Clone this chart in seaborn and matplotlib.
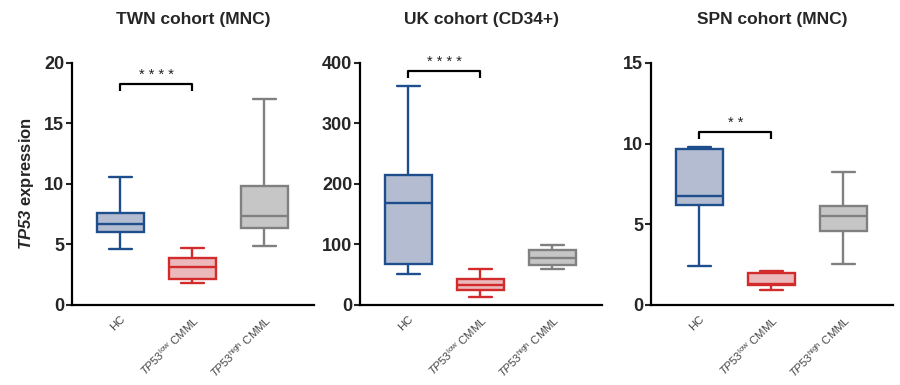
import matplotlib
matplotlib.use('Agg')
import matplotlib.pyplot as plt
import pandas as pd
import seaborn as sns

# categories and tick labels
groups = ['HC', 'TP53low', 'TP53high']
tick_labels = ['HC',
               r'$\mathit{TP53}^{\mathrm{low}}$ CMML',
               r'$\mathit{TP53}^{\mathrm{high}}$ CMML']

# five-number summaries (min, q1, median, q3, max)
twn_hc = [4.65, 6.06, 6.72, 7.63, 10.58]
twn_low = [1.82, 2.18, 3.11, 3.91, 4.74]
twn_high = [4.85, 6.34, 7.36, 9.81, 17.0]

uk_hc = [52, 67, 168, 214, 361]
uk_low = [13, 25, 33, 43, 59]
uk_high = [59.5, 65.5, 78, 91, 98.5]

spn_hc = [2.41, 6.17, 6.73, 9.66, 9.80]
spn_low = [0.90, 1.26, 1.32, 2.00, 2.10]
spn_high = [2.54, 4.58, 5.53, 6.13, 8.24]

titles = ['TWN cohort (MNC)', 'UK cohort (CD34+)', 'SPN cohort (MNC)']
y_max = [20, 400, 15]
y_step = [5, 100, 5]
bracket_y = [18.26, 386.6, 10.73]
stars = ['* * * *', '* * * *', '* *']

edge_colors = ['#1f4e8c', '#d12b2b', '#808080']
fill_colors = ['#b4bcd2', '#ebb8bb', '#c6c6c6']

cohorts = [[twn_hc, twn_low, twn_high],
           [uk_hc, uk_low, uk_high],
           [spn_hc, spn_low, spn_high]]

sns.set_style('ticks')
plt.rcParams['font.family'] = ['Liberation Sans', 'DejaVu Sans']
plt.rcParams['mathtext.fontset'] = 'custom'
plt.rcParams['mathtext.rm'] = 'Liberation Sans'
plt.rcParams['mathtext.it'] = 'Liberation Sans:italic'
plt.rcParams['mathtext.bf'] = 'Liberation Sans:bold'
plt.rcParams['mathtext.bfit'] = 'Liberation Sans:italic:bold'

fig = plt.figure(figsize=(9, 3.85), dpi=100)
lefts = [0.080, 0.400, 0.7233]

for i, series in enumerate(cohorts):
    ax = fig.add_axes([lefts[i], 0.2078, 0.269, 0.629])
    rows = []
    for g, vals in zip(groups, series):
        for v in vals:
            rows.append({'group': g, 'value': v})
    df = pd.DataFrame(rows)

    for j, g in enumerate(groups):
        sns.boxplot(data=df[df['group'] == g], x='group', y='value', order=groups,
                    whis=(0, 100), width=0.65, color=fill_colors[j],
                    linecolor=edge_colors[j], linewidth=1.7, saturation=1,
                    ax=ax)

    ax.set_xlim(-0.67, 2.69)
    ax.set_ylim(0, y_max[i])
    ax.set_yticks(range(0, y_max[i] + 1, y_step[i]))
    ax.set_xticks(range(len(groups)))
    ax.set_xticklabels(tick_labels, rotation=45, ha='right',
                       rotation_mode='anchor', fontsize=8.2, color='#444444')
    ax.tick_params(axis='x', length=0, pad=6)
    ax.tick_params(axis='y', length=4, width=1.5, labelsize=13, pad=1.5)
    for lab in ax.get_yticklabels():
        lab.set_fontweight('bold')
    for side in ['top', 'right']:
        ax.spines[side].set_visible(False)
    for side in ['left', 'bottom']:
        ax.spines[side].set_linewidth(1.6)
        ax.spines[side].set_color('black')

    ax.set_xlabel('')
    if i == 0:
        ax.set_ylabel(r'$\mathbfit{TP53}$ expression', fontsize=12,
                      fontweight='bold', labelpad=6)
    else:
        ax.set_ylabel('')
    ax.set_title(titles[i], fontsize=12.5, fontweight='bold', pad=28)

    # significance bracket between HC and TP53low
    by = bracket_y[i]
    drop = 0.031 * y_max[i]
    ax.plot([0, 0, 1, 1], [by - drop, by, by, by - drop], color='black',
            lw=1.6, solid_capstyle='butt', clip_on=False)
    ax.text(0.5, by + 0.008 * y_max[i], stars[i], ha='center', va='bottom',
            fontsize=10.5, color='#222222')

fig.savefig('out.png', dpi=100)
